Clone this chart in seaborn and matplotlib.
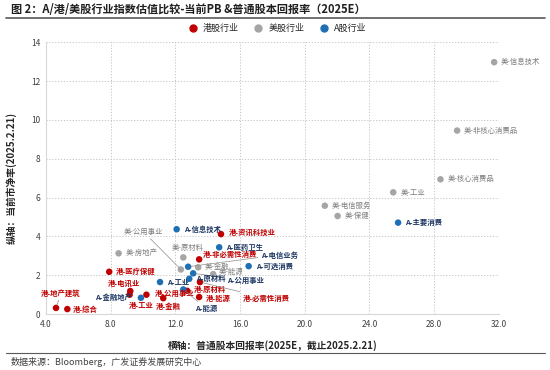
import matplotlib.pyplot as plt
import matplotlib.lines as mlines
import pandas as pd
import seaborn as sns

# Data (x: ROE 2025E %, y: PB)
hk_names = ["港-综合", "港-地产建筑", "港-医疗保健", "港-电讯业", "港-工业", "港-公用事业",
            "港-金融", "港-原材料", "港-能源", "港-必需性消费", "港-非必需性消费", "港-资讯科技业"]
hk_roe = [5.32, 4.62, 7.91, 9.21, 9.17, 10.21, 11.25, 12.73, 13.47, 13.52, 13.47, 14.82]
hk_pb = [0.26, 0.32, 2.18, 1.19, 1.00, 1.00, 0.82, 1.20, 0.88, 1.65, 2.82, 4.12]

us_names = ["美-信息技术", "美-非核心消费品", "美-核心消费品", "美-工业", "美-电信服务", "美-保健",
            "美-房地产", "美-公用事业", "美-原材料", "美-金融", "美-能源"]
us_roe = [31.71, 29.42, 28.39, 25.47, 21.24, 22.03, 8.49, 12.34, 12.49, 13.41, 14.34]
us_pb = [12.97, 9.45, 6.94, 6.27, 5.58, 5.05, 3.13, 2.30, 2.92, 2.41, 2.06]

a_names = ["A-信息技术", "A-医药卫生", "A-可选消费", "A-电信业务", "A-公用事业", "A-原材料",
           "A-能源", "A-工业", "A-金融地产", "A-主要消费"]
a_roe = [12.08, 14.71, 16.53, 12.79, 13.10, 12.86, 12.49, 11.05, 9.87, 25.77]
a_pb = [4.37, 3.44, 2.47, 2.44, 2.10, 1.82, 1.27, 1.65, 0.84, 4.71]

markets = ["港股行业", "美股行业", "A股行业"]
dot_colors = {"港股行业": "#C00000", "美股行业": "#A5A5A5", "A股行业": "#1F6FB5"}
text_colors = {"港股行业": "#C00000", "美股行业": "#7F7F7F", "A股行业": "#1F3864"}

# label offsets in pixels (dx, dy, ha, leader line)
offsets = {
    "港-综合": (5, 0, "left", False), "港-地产建筑": (5, 15, "center", True),
    "港-医疗保健": (7, 0, "left", False), "港-电讯业": (-6, 8, "center", False),
    "港-工业": (12, -11, "center", False), "港-公用事业": (8, 1, "left", False),
    "港-金融": (5, -8, "center", False), "港-原材料": (7, 1, "left", False),
    "港-能源": (7, -1, "left", False), "港-必需性消费": (43, -16, "left", True),
    "港-非必需性消费": (4, 5, "left", False), "港-资讯科技业": (8, 2, "left", False),
    "美-公用事业": (-18, 38, "right", True), "美-原材料": (4, 9, "center", False),
    "美-能源": (5, 2, "left", False),
    "A-电信业务": (73, 12, "left", True), "A-公用事业": (34, -7, "left", True),
    "A-能源": (12, -19, "left", True), "A-金融地产": (-9, 1, "right", False),
}

df = pd.DataFrame({
    "name": hk_names + us_names + a_names,
    "roe": hk_roe + us_roe + a_roe,
    "pb": hk_pb + us_pb + a_pb,
    "market": ["港股行业"] * len(hk_names) + ["美股行业"] * len(us_names) + ["A股行业"] * len(a_names),
})

sns.set_style("white")
plt.rcParams["font.family"] = ["Noto Sans CJK SC", "DejaVu Sans"]

fig = plt.figure(figsize=(5.5, 3.7), dpi=100)
ax = fig.add_axes([0.0836, 0.151, 0.8234, 0.735])

sns.scatterplot(data=df, x="roe", y="pb", hue="market", hue_order=markets,
                palette=dot_colors, s=22, edgecolor="none", ax=ax, legend=False, zorder=3)

for _, r in df.iterrows():
    dx, dy, ha, lead = offsets.get(r["name"], (7, 0, "left", False))
    ap = dict(arrowstyle="-", color="#8C8C8C", lw=0.5, shrinkA=0, shrinkB=2) if lead else None
    ax.annotate(r["name"], (r["roe"], r["pb"]), xytext=(dx, dy), textcoords="offset pixels",
                ha=ha, va="center", fontsize=5.3, color=text_colors[r["market"]],
                fontweight="bold" if r["market"] != "美股行业" else "normal",
                arrowprops=ap, zorder=4)

ax.set_xlim(4, 32)
ax.set_ylim(0, 14)
ax.set_xticks(range(4, 33, 4))
ax.set_xticklabels([f"{v:.1f}" for v in range(4, 33, 4)])
ax.set_yticks(range(0, 15, 2))
ax.tick_params(labelsize=6, length=0, pad=4, colors="#404040")
ax.grid(True, linestyle=(0, (1.5, 2)), color="#BFBFBF", lw=0.6)
for side in ["top", "right"]:
    ax.spines[side].set_visible(False)
for side in ["left", "bottom"]:
    ax.spines[side].set_color("#D9D9D9")
    ax.spines[side].set_linewidth(0.8)

ax.set_xlabel("横轴：普通股本回报率(2025E，截止2025.2.21)", fontsize=7, fontweight="bold", labelpad=8)
ax.set_ylabel("纵轴：当前市净率(2025.2.21)", fontsize=7, fontweight="bold", labelpad=10)

# legend
handles = [mlines.Line2D([], [], marker="o", ls="", color=dot_colors[m], markersize=5) for m in markets]
fig.legend(handles, markets, loc="center", bbox_to_anchor=(0.5, 0.924), ncol=3, frameon=False,
           fontsize=6.5, handletextpad=0.1, columnspacing=1.2)

fig.text(0.02, 0.973, "图 2：A/港/美股行业指数估值比较-当前PB &普通股本回报率（2025E）",
         fontsize=8, fontweight="bold", color="#1F1F1F", va="center")
fig.add_artist(mlines.Line2D([0.01, 0.99], [0.952, 0.952], color="#595959", lw=1.2))
fig.add_artist(mlines.Line2D([0.01, 0.99], [0.046, 0.046], color="#595959", lw=0.8))
fig.text(0.02, 0.022, "数据来源：Bloomberg，广发证券发展研究中心", fontsize=6.5, color="#404040", va="center")

fig.savefig("out.png", dpi=100)
